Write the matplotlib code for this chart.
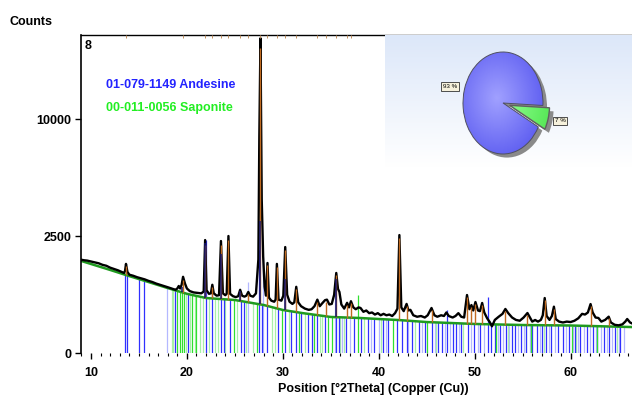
import numpy as np
import matplotlib
matplotlib.use("Agg")
import matplotlib.pyplot as plt
from matplotlib.colors import LinearSegmentedColormap
from matplotlib.transforms import blended_transform_factory

plt.rcParams["font.family"] = ["Liberation Sans", "DejaVu Sans"]
plt.rcParams["font.weight"] = "bold"

obs_x = [8.96, 9.3, 9.6, 10.0, 10.4, 10.8, 11.2, 11.6, 12.0, 12.4, 12.8, 13.2, 13.45,
         13.55, 13.65, 13.8, 14.0, 14.4, 14.8, 15.2, 15.6, 16.0, 16.4, 16.8, 17.2, 17.6,
         18.0, 18.4, 18.8, 19.0, 19.15, 19.3, 19.45, 19.6, 19.8, 20.0, 20.3, 20.7, 21.1,
         21.5, 21.75, 21.9, 22.05, 22.3, 22.5, 22.65, 22.8, 23.1, 23.35, 23.55, 23.75,
         24.0, 24.15, 24.33, 24.5, 24.8, 25.1, 25.35, 25.55, 25.75, 26.0, 26.2, 26.4,
         26.6, 26.9, 27.2, 27.45, 27.55, 27.67, 27.8, 27.95, 28.1, 28.25, 28.4, 28.55,
         28.8, 29.1, 29.25, 29.38, 29.55, 29.85, 30.05, 30.25, 30.45, 30.7, 31.0, 31.2,
         31.4, 31.6, 31.9, 32.3, 32.7, 33.0, 33.3, 33.6, 33.85, 34.1, 34.4, 34.6, 34.85,
         35.1, 35.35, 35.57, 35.75, 35.9, 36.1, 36.4, 36.7, 36.9, 37.1, 37.35, 37.6, 37.9,
         38.1, 38.4, 38.7, 39.0, 39.3, 39.6, 39.9, 40.2, 40.5, 40.8, 41.1, 41.4, 41.7,
         41.95, 42.15, 42.35, 42.6, 42.9, 43.1, 43.3, 43.6, 44.0, 44.4, 44.8, 45.1, 45.5,
         45.8, 46.1, 46.5, 46.8, 47.05, 47.3, 47.7, 48.0, 48.3, 48.6, 48.9, 49.2, 49.45,
         49.66, 49.85, 50.08, 50.35, 50.55, 50.78, 51.0, 51.3, 51.6, 51.8, 52.1, 52.5,
         52.9, 53.2, 53.5, 53.9, 54.3, 54.7, 55.1, 55.5, 55.8, 56.0, 56.3, 56.6, 56.9,
         57.1, 57.3, 57.5, 57.8, 58.05, 58.26, 58.45, 58.8, 59.2, 59.6, 60.0, 60.4, 60.8,
         61.2, 61.5, 61.8, 62.08, 62.3, 62.6, 62.9, 63.2, 63.6, 63.97, 64.2, 64.6, 65.0,
         65.4, 65.7, 65.9, 66.2, 66.4]
obs_y = [1590, 1570, 1560, 1530, 1500, 1470, 1420, 1390, 1330, 1290, 1250, 1200, 1170,
         1230, 1450, 1200, 1120, 1090, 1050, 1020, 990, 950, 920, 880, 850, 820,
         790, 760, 730, 760, 820, 760, 850, 1060, 880, 760, 700, 670, 660,
         650, 690, 2330, 720, 640, 650, 850, 650, 600, 610, 2290, 650,
         610, 640, 2500, 640, 590, 570, 590, 730, 600, 580, 600, 680,
         600, 580, 650, 1600, 8500, 18100, 4300, 1700, 800, 600, 1480, 560,
         500, 480, 520, 1450, 520, 500, 600, 2050, 620, 480, 440, 470,
         800, 470, 400, 360, 340, 350, 400, 520, 400, 450, 510, 520, 430,
         440, 620, 1170, 750, 680, 430, 360, 460, 380, 490, 380, 350, 380,
         370, 310, 330, 290, 300, 270, 290, 260, 280, 260, 270, 250, 290,
         360, 2540, 380, 320, 440, 330, 340, 260, 240, 250, 230, 260, 370,
         260, 240, 260, 250, 300, 250, 230, 250, 290, 240, 230, 614, 350,
         420, 330, 475, 330, 320, 457, 300, 220, 170, 130, 200, 240,
         280, 354, 290, 230, 200, 190, 230, 292, 220, 180, 199, 180, 200,
         260, 552, 250, 200, 250, 392, 210, 180, 170, 180, 175, 190, 220,
         280, 270, 300, 438, 300, 230, 224, 180, 200, 241, 170, 145, 140,
         150, 180, 211, 170, 160]

# fitted background
bg_x = [8.96, 12, 14, 16, 18, 20, 22, 25, 28, 30, 32, 35, 38, 40, 42, 45, 50, 55, 60, 66.4]
bg_y = [1550, 1260, 1080, 920, 770, 640, 552, 513, 421, 338, 292, 237, 224, 211, 199,
        175, 154, 143, 138, 123]

# calculated peak profile (orange) and Andesine contribution (navy)
calc_pos = [13.65, 19.6, 21.9, 22.65, 23.55, 24.33, 25.55, 26.4, 27.67, 28.4, 29.38,
            30.25, 31.4, 33.6, 34.5, 35.57, 36.7, 37.1, 42.15, 42.9, 45.5, 49.2, 49.66,
            50.08, 50.78, 53.2, 55.5, 57.3, 58.26, 62.08, 63.97]
calc_top = [1380, 980, 2150, 800, 2150, 2350, 680, 640, 17000, 1400, 1350,
            1950, 740, 480, 480, 1100, 420, 450, 2400, 400, 340, 570, 390,
            440, 420, 320, 270, 510, 360, 400, 220]
navy_pos = [19.45, 21.9, 23.55, 25.55, 27.67, 30.25, 35.57]
navy_top = [800, 2200, 1800, 700, 3200, 1000, 1000]

# reference sticks
andesine = [13.55, 13.75, 15.0, 15.5, 18.8, 20.1, 21.95, 22.6, 23.55, 23.9, 24.5, 25.6,
            26.0, 27.55, 27.8, 28.35, 29.5, 30.2, 30.8, 31.4, 31.9, 32.6, 33.0, 33.6,
            34.4, 35.5, 35.9, 36.6, 37.4, 38.2, 38.9, 39.5, 40.4, 41.0, 41.9, 42.4, 42.9,
            43.5, 44.2, 44.8, 45.5, 46.2, 46.6, 47.1, 47.7, 48.1, 48.6, 49.3, 49.9, 50.6,
            51.4, 51.7, 52.1, 52.6, 53.3, 53.9, 54.2, 54.8, 55.4, 56.0, 56.5, 57.0, 57.4,
            58.0, 58.7, 59.2, 59.8, 60.5, 61.0, 61.7, 62.3, 62.8, 63.5, 64.0, 64.6, 65.2]
andesine_weak = [17.9, 26.4, 27.9, 35.4, 36.2, 37.0, 39.2, 40.0, 40.8, 43.0, 44.5, 45.9,
                 46.9, 47.4, 48.4, 49.6, 50.3, 51.0, 52.4, 53.0, 53.6, 54.5, 55.1, 55.8,
                 56.8, 57.7, 58.4, 59.5, 60.2, 60.8, 61.4, 62.0, 62.6, 63.2, 63.8, 64.3,
                 65.0, 65.6]
saponite = [19.0, 19.3, 19.5, 19.7, 20.5, 21.0, 24.9, 27.3, 29.9, 31.7, 33.3, 34.7, 35.1,
            37.8, 41.5, 45.0, 52.2, 55.9, 60.1, 62.7]
saponite_weak = [18.4, 18.6, 19.9, 20.3, 20.8, 21.4, 21.7, 22.3, 22.9, 23.2, 24.0, 25.2,
                 26.2, 26.9, 28.9, 29.2, 30.6, 32.3, 33.9, 34.1, 36.0, 36.4, 38.5, 40.2,
                 43.8, 46.0, 48.8, 53.5, 55.3, 57.2, 60.6, 64.8]
tall_sticks = {21.95: 2330, 22.6: 845, 26.4: 920, 27.55: 1940, 27.9: 1680, 30.2: 680,
               35.4: 970, 37.8: 614, 47.1: 338, 51.4: 573}

phase_labels = ["01-079-1149 Andesine", "00-011-0056 Saponite"]
phase_share = [93, 7]


def stick_tops(pos):
    return [tall_sticks.get(p, np.interp(p, bg_x, bg_y)) for p in pos]


def shade(ax, wedge, c_in, c_out):
    cx, cy = wedge.center
    cmap = LinearSegmentedColormap.from_list("shade", [c_in, c_out])
    gx, gy = np.meshgrid(np.linspace(-1.3, 1.3, 160), np.linspace(-1.3, 1.3, 160))
    r = np.hypot(gx + 0.15, gy - 0.1)
    im = ax.imshow(r, extent=(cx - 1.3, cx + 1.3, cy - 1.3, cy + 1.3), origin="lower",
                   cmap=cmap, aspect="auto", zorder=2, interpolation="bilinear")
    im.set_clip_path(wedge)
    wedge.set_facecolor("none")
    wedge.set_zorder(3)


def main():
    fig = plt.figure(figsize=(6.32, 3.96), dpi=100)
    ax = fig.add_axes([81 / 632, 1 - 353 / 396, 1 - 81 / 632, 318 / 396])
    ax.set_yscale("function", functions=(lambda v: np.sqrt(np.clip(v, 0, None)),
                                         lambda v: np.asarray(v) ** 2))

    # sticks
    ax.vlines(andesine_weak, 0, stick_tops(andesine_weak), color="#b4b8ff", lw=0.9, zorder=1)
    ax.vlines(saponite_weak, 0, stick_tops(saponite_weak), color="#a8f0a8", lw=0.9, zorder=1)
    ax.vlines(andesine, 0, stick_tops(andesine), color="#3030ff", lw=0.9, zorder=1.2)
    ax.vlines(saponite, 0, stick_tops(saponite), color="#30e030", lw=0.9, zorder=1.2)

    ax.plot(bg_x, bg_y, color="#1f9a1f", lw=1.8, zorder=2)
    ax.plot(obs_x, obs_y, color="black", lw=1.7, zorder=3, solid_joinstyle="round")
    base = np.interp(calc_pos, bg_x, bg_y)
    ax.vlines(calc_pos, base, calc_top, color="#c06a20", lw=1.0, zorder=4)
    ax.vlines(navy_pos, np.interp(navy_pos, bg_x, bg_y), navy_top, color="#14146e",
              lw=1.1, zorder=4.5)

    # peak markers on the top axis
    trans = blended_transform_factory(ax.transData, ax.transAxes)
    top_pos = [p for p in calc_pos if p < 39]
    ax.vlines(top_pos, 0.99, 1.0, transform=trans, color="#c09060", lw=0.7, zorder=5)

    ax.set_xlim(8.96, 66.4)
    ax.set_ylim(0, 18470)
    ax.set_yticks([0, 2500, 10000])
    ax.set_yticklabels(["0", "2500", "10000"])
    ax.set_xticks(range(10, 61, 10))
    ax.set_xticks(range(9, 67), minor=True)
    ax.tick_params(axis="x", which="major", length=4, width=1, pad=6, labelsize=9)
    ax.tick_params(axis="x", which="minor", length=2, width=0.8)
    ax.tick_params(axis="y", which="major", length=4, width=1, pad=3, labelsize=9)
    ax.tick_params(axis="y", which="minor", length=0)
    ax.spines["right"].set_visible(False)
    ax.spines["bottom"].set_visible(False)
    ax.spines["left"].set_linewidth(1.2)
    ax.spines["top"].set_linewidth(1.0)

    fig.text(10 / 632, 1 - 22 / 396, "Counts", fontsize=9, va="center", ha="left")
    fig.text(373 / 632, 1 - 395 / 396, "Position [°2Theta] (Copper (Cu))", fontsize=9,
             ha="center", va="bottom")
    ax.text(85 / 632, 1 - 46 / 396, "8", transform=fig.transFigure, fontsize=9,
            va="center", ha="left")
    ax.text(106 / 632, 1 - 85 / 396, phase_labels[0], transform=fig.transFigure,
            fontsize=9, color="#2222ff", va="center")
    ax.text(106 / 632, 1 - 108 / 396, phase_labels[1], transform=fig.transFigure,
            fontsize=9, color="#22ee22", va="center")

    # inset background
    bax = fig.add_axes([385 / 632, 1 - 168 / 396, (632 - 385) / 632, 133 / 396])
    grad = np.linspace(0, 1, 64).reshape(-1, 1)
    bax.imshow(grad, cmap=LinearSegmentedColormap.from_list("bg", ["#ffffff", "#dce7f9"]),
               aspect="auto", extent=(0, 1, 0, 1), origin="lower")
    bax.axis("off")

    # pie
    pax = fig.add_axes([443 / 632, 1 - 164 / 396, 140 / 632, 122 / 396])
    pax.pie(phase_share, startangle=-2.8, explode=(0, 0.17), colors=["#8a8a8a"] * 2,
            center=(0.1, -0.07), wedgeprops=dict(linewidth=0))
    wedges, _ = pax.pie(phase_share, startangle=-2.8, explode=(0, 0.17),
                        colors=["#4040f0", "#44ee44"],
                        wedgeprops=dict(linewidth=0.7, edgecolor="#505060"))
    shade(pax, wedges[0], "#a0a0ff", "#3434e8")
    shade(pax, wedges[1], "#90ff90", "#30d830")
    wedges[1].set_edgecolor("#606060")
    wedges[1].set_linewidth(1.0)
    pax.set_aspect("auto")
    pax.set_xlim(-1.5, 2.0)
    pax.set_ylim(-1.196, 1.196)
    pax.axis("off")

    box = dict(boxstyle="square,pad=0.25", facecolor="#f6f1dc", edgecolor="#333333", lw=0.6)
    fig.text(450 / 632, 1 - 86.5 / 396, f"{phase_share[0]} %", fontsize=4.5, ha="center",
             va="center", bbox=box, weight="normal")
    fig.text(560 / 632, 1 - 121 / 396, f"{phase_share[1]} %", fontsize=4.5, ha="center",
             va="center", bbox=box, weight="normal")

    fig.savefig("out.png", dpi=100)
    plt.close(fig)


if __name__ == "__main__":
    main()
